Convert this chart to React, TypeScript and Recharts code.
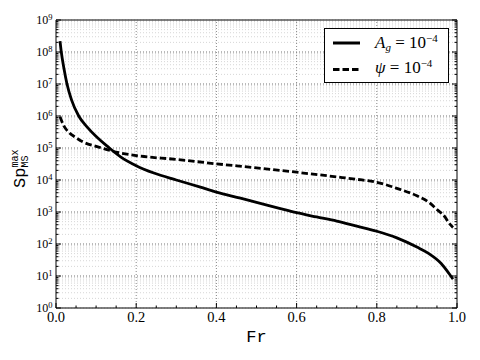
import React from 'react';
import { LineChart, Line, XAxis, YAxis, CartesianGrid, ReferenceLine, Legend } from 'recharts';

// A_g = 1e-4 curve (solid)
const frSolid = [0.01, 0.0132, 0.0195, 0.0274, 0.0387, 0.0566, 0.0785, 0.133, 0.162, 0.2, 0.244, 0.3, 0.36, 0.4, 0.46, 0.5, 0.55, 0.6, 0.65, 0.7, 0.75, 0.8, 0.85, 0.9, 0.93, 0.96, 0.98, 0.99];
const spSolid = [2.2e8, 1e8, 3.2e7, 1e7, 3.2e6, 1e6, 4.4e5, 1e5, 5.2e4, 2.8e4, 1.65e4, 1e4, 6e3, 4.2e3, 2.7e3, 2e3, 1.38e3, 950, 700, 520, 360, 250, 155, 80, 50, 25, 12, 8];

// psi = 1e-4 curve (dashed)
const frDashed = [0.01, 0.02, 0.033, 0.05, 0.067, 0.1, 0.14, 0.2, 0.3, 0.4, 0.5, 0.6, 0.7, 0.75, 0.8, 0.85, 0.9, 0.93, 0.95, 0.97, 0.98, 0.99];
const spDashed = [9.5e5, 4.8e5, 3e5, 2.1e5, 1.55e5, 1.13e5, 8e4, 5.8e4, 4.4e4, 3.2e4, 2.4e4, 1.75e4, 1.25e4, 1.05e4, 8.5e3, 5.5e3, 3.2e3, 2e3, 1.2e3, 700, 450, 330];

const DECADES = [1, 10, 100, 1e3, 1e4, 1e5, 1e6, 1e7, 1e8, 1e9];
const EXPONENTS = ['0', '1', '2', '3', '4', '5', '6', '7', '8', '9'];
const MINOR_STEPS = [2, 3, 4, 5, 6, 7, 8, 9];
const X_MAJOR = [0, 0.2, 0.4, 0.6, 0.8, 1];
const X_LABELS = ['0.0', '0.2', '0.4', '0.6', '0.8', '1.0'];
const X_MINOR = [0.05, 0.1, 0.15, 0.25, 0.3, 0.35, 0.45, 0.5, 0.55, 0.65, 0.7, 0.75, 0.85, 0.9, 0.95];

const yMinor = DECADES.slice(0, -1).flatMap((d) => MINOR_STEPS.map((m) => m * d));
const yTicks = [...DECADES, ...yMinor].sort((a, b) => a - b);
const xTicks = [...X_MAJOR, ...X_MINOR].sort((a, b) => a - b);

const solidData = frSolid.map((fr, i) => ({ fr, sp: spSolid[i] }));
const dashedData = frDashed.map((fr, i) => ({ fr, sp: spDashed[i] }));

const SERIF = '"Liberation Serif", "DejaVu Serif", serif';
const MONO = '"Liberation Mono", "DejaVu Sans Mono", monospace';
const DASH = '6.5 3';
const MAJOR_LEN = 5;
const MINOR_LEN = 2.5;

const xMajorIndex = (v: number) => X_MAJOR.findIndex((m) => Math.abs(m - v) < 1e-9);

const LeftTick = (props: any) => {
  const { x, y, payload } = props;
  const i = DECADES.indexOf(payload.value);
  return (
    <g>
      <line x1={x} x2={x + (i >= 0 ? MAJOR_LEN : MINOR_LEN)} y1={y} y2={y} stroke="#000" />
      {i >= 0 && (
        <text x={x - 3.5} y={y + 4.2} textAnchor="end" fontFamily={SERIF} fontSize={12} fill="#000">
          10<tspan dy={-4.5} fontSize={8.5}>{EXPONENTS[i]}</tspan>
        </text>
      )}
    </g>
  );
};

const RightTick = (props: any) => {
  const { x, y, payload } = props;
  const major = DECADES.indexOf(payload.value) >= 0;
  return <line x1={x} x2={x - (major ? MAJOR_LEN : MINOR_LEN)} y1={y} y2={y} stroke="#000" />;
};

const BottomTick = (props: any) => {
  const { x, y, payload } = props;
  const i = xMajorIndex(payload.value);
  return (
    <g>
      <line x1={x} x2={x} y1={y} y2={y - (i >= 0 ? MAJOR_LEN : MINOR_LEN)} stroke="#000" />
      {i >= 0 && (
        <text x={x} y={y + 14} textAnchor="middle" fontFamily={SERIF} fontSize={14.5} fill="#000">
          {X_LABELS[i]}
        </text>
      )}
    </g>
  );
};

const TopTick = (props: any) => {
  const { x, y, payload } = props;
  const major = xMajorIndex(payload.value) >= 0;
  return <line x1={x} x2={x} y1={y} y2={y + (major ? MAJOR_LEN : MINOR_LEN)} stroke="#000" />;
};

const YTitle = ({ viewBox }: any) => {
  const cy = viewBox.y + viewBox.height / 2;
  return (
    <text transform={`translate(25,${cy}) rotate(-90)`} x={-24} y={0} fontFamily={MONO} fontSize={17} fill="#000">
      Sp<tspan fontSize={10} dy={-7.5}>max</tspan>
      <tspan fontSize={10} dx={-18} dy={10}>MS</tspan>
    </text>
  );
};

const XTitle = ({ viewBox }: any) => (
  <text x={viewBox.x + viewBox.width / 2} y={viewBox.y + 33.7} textAnchor="middle" fontFamily={MONO} fontSize={17} fill="#000">
    Fr
  </text>
);

const LEGEND_TEXT = [
  <>
    <tspan fontStyle="italic">A</tspan>
    <tspan fontStyle="italic" fontSize={11} dy={3}>g</tspan>
    <tspan dy={-3}> = 10</tspan>
    <tspan fontSize={11} dy={-6}>−4</tspan>
  </>,
  <>
    <tspan fontStyle="italic">ψ</tspan>
    <tspan> = 10</tspan>
    <tspan fontSize={11} dy={-6}>−4</tspan>
  </>,
];

const LegendBox = (props: any) => {
  const items = props.payload || [];
  return (
    <svg width={126} height={56} style={{ display: 'block' }}>
      <rect x={0.5} y={0.5} width={124} height={54} fill="#fff" stroke="#000" />
      {items.map((e: any, i: number) => (
        <g key={i}>
          <line x1={9} x2={36} y1={15 + i * 26.5} y2={15 + i * 26.5} stroke="#000" strokeWidth={3}
            strokeDasharray={e.payload && e.payload.strokeDasharray} />
          <text x={51} y={19.5 + i * 25.5} fontFamily={SERIF} fontSize={17} fill="#000">
            {LEGEND_TEXT[i]}
          </text>
        </g>
      ))}
    </svg>
  );
};

export default function App() {
  return (
    <div style={{ position: 'absolute', left: 0, top: 0, width: 480, height: 360, background: '#fff' }}>
      <LineChart width={480} height={360} margin={{ top: 0, right: 0, bottom: 0, left: 0 }}>
        <CartesianGrid vertical={false} stroke="#d6d6d6" strokeDasharray="1 2" />
        {DECADES.slice(1, -1).map((d) => (
          <ReferenceLine key={`y${d}`} y={d} stroke="#888" strokeDasharray="1 2" />
        ))}
        {X_MAJOR.slice(1, -1).map((v) => (
          <ReferenceLine key={`x${v}`} x={v} stroke="#888" strokeDasharray="1 2" />
        ))}
        <XAxis type="number" dataKey="fr" domain={[0, 1]} ticks={xTicks} interval={0} height={52}
          allowDataOverflow stroke="#000" tickLine={false} tickSize={0} tickMargin={0}
          tick={BottomTick} label={{ content: (p: any) => <XTitle viewBox={p.viewBox} /> }} />
        <XAxis xAxisId="t" orientation="top" type="number" domain={[0, 1]} ticks={xTicks} interval={0}
          height={20} stroke="#000" tickLine={false} tickSize={0} tickMargin={0} tick={TopTick} />
        <YAxis type="number" scale="log" domain={[1, 1e9]} ticks={yTicks} interval={0} width={56}
          allowDataOverflow stroke="#000" tickLine={false} tickSize={0} tickMargin={0}
          tick={LeftTick} label={{ content: (p: any) => <YTitle viewBox={p.viewBox} /> }} />
        <YAxis yAxisId="r" orientation="right" type="number" scale="log" domain={[1, 1e9]} ticks={yTicks}
          interval={0} width={23} allowDataOverflow stroke="#000" tickLine={false} tickSize={0}
          tickMargin={0} tick={RightTick} />
        <Line data={solidData} dataKey="sp" name="Ag" type="monotone" stroke="#000" strokeWidth={2.8}
          dot={false} isAnimationActive={false} />
        <Line data={dashedData} dataKey="sp" name="psi" type="monotone" stroke="#000" strokeWidth={2.8}
          strokeDasharray={DASH} dot={false} isAnimationActive={false} />
        <Legend layout="vertical" align="center" verticalAlign="middle" content={LegendBox}
          wrapperStyle={{ left: 324, top: 27.5, width: 126, height: 56 }} />
      </LineChart>
    </div>
  );
}
